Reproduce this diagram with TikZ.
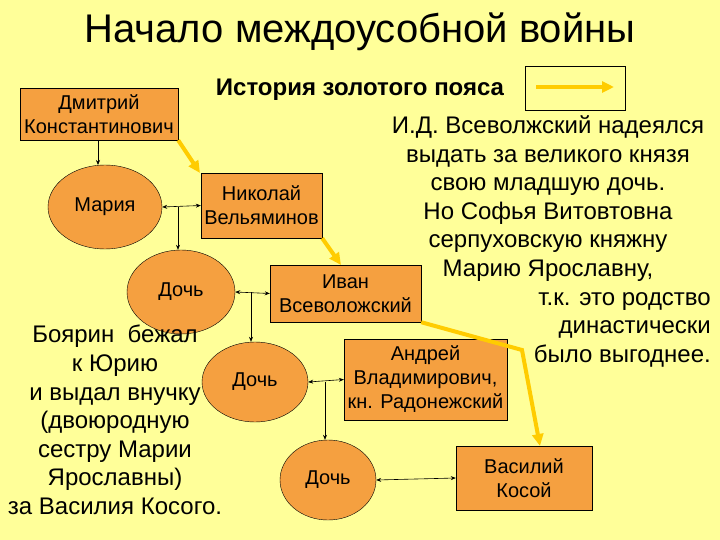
\documentclass[tikz,border=0pt]{standalone}
\usepackage{fontspec}
\setmainfont{Liberation Sans}
\usetikzlibrary{shapes.geometric,arrows.meta}
\definecolor{bg}{RGB}{255,255,153}
\definecolor{org}{RGB}{245,160,64}
\definecolor{gold}{RGB}{255,204,0}
\begin{document}
\begin{tikzpicture}[x=1pt,y=-1pt,
 box/.style={draw=black,fill=org,align=center,font=\fontsize{20}{24}\selectfont,inner sep=1pt},
 ell/.style={draw=black,fill=org,ellipse,font=\fontsize{20}{24}\selectfont,inner sep=0pt},
 link/.style={{Stealth[length=5pt,width=4pt]}-{Stealth[length=5pt,width=4pt]},line width=0.6pt},
 down/.style={-{Stealth[length=5pt,width=4pt]},line width=0.6pt},
 gold/.style={draw=gold,line width=4pt,-{Triangle[length=12pt,width=11pt]}},
 txt/.style={font=\fontsize{24}{28.6}\selectfont,align=center,inner sep=0pt}]
\fill[bg] (0,0) rectangle (720,540);
\useasboundingbox (0,0) rectangle (720,540);
\node[font=\fontsize{40}{46}\selectfont] (title) at (360,32) {Начало междоусобной войны};
\node[font=\bfseries\fontsize{24}{28}\selectfont] (hist) at (360,90) {История золотого пояса};
\node[draw=black,minimum width=100,minimum height=44,inner sep=0pt] (leg) at (575,88) {};
\coordinate (la) at (536,87); \coordinate (lb) at (614,87);
\draw[gold] (la) -- (lb);
\node[box,minimum width=158,minimum height=52] (dm) at (99,114) {Дмитрий\\Константинович};
\node[ell,minimum width=114,minimum height=84] (ma) at (105,207) {Мария};
\node[box,minimum width=121,minimum height=65] (ni) at (261.5,205.5) {Николай\\Вельяминов};
\node[ell,minimum width=108,minimum height=84] (d1) at (181,292) {Дочь};
\node[box,minimum width=151,minimum height=57] (iv) at (345.5,293.5) {Иван\\Всеволожский};
\node[ell,minimum width=106,minimum height=80] (d2) at (255,382) {Дочь};
\node[box,minimum width=163,minimum height=81] (an) at (425.5,379.5) {Андрей\\Владимирович,\\кн. Радонежский};
\node[ell,minimum width=96,minimum height=80] (d3) at (328,480) {Дочь};
\node[box,minimum width=136,minimum height=64] (va) at (524,478) {Василий\\Косой};
\draw[down] (dm.south -| 98,0) -- (98,165);
\draw[link] (ma.east) -- (ni.west);
\coordinate (b1) at (178,207);
\draw[down] (b1) -- (d1.north -| b1);
\draw[link] (d1.east) -- (iv.west);
\coordinate (b2) at (251,292);
\draw[down] (b2) -- (d2.north -| b2);
\draw[link] (d2.east) -- (an.west);
\coordinate (b3) at (325,382);
\draw[down] (b3) -- (d3.north -| b3);
\draw[link] (d3.east) -- (va.west);
\coordinate (t1) at (200,173);
\draw[gold] (dm.south east) -- (t1);
\coordinate (t2) at (341,265);
\draw[gold] (ni.south east) -- (t2);
\coordinate (k) at (522,350);
\coordinate (t3) at (540,446);
\draw[gold] (iv.south east) -- (k) -- (t3);
\node[txt] (r1) at (548,198.5) {И.Д. Всеволжский надеялся\\выдать за великого князя\\свою младшую дочь.\\Но Софья Витовтовна\\серпуховскую княжну\\Марию Ярославну,};
\node[txt,align=right,anchor=north east] (r2) at (711,292) {т.к. это родство\\династически\\было выгоднее.};
\node[txt] (l1) at (115,420) {Боярин\ \ бежал\\к Юрию\\и выдал внучку\\(двоюродную\\сестру Марии\\Ярославны)\\за Василия Косого.};
\end{tikzpicture}
\end{document}
